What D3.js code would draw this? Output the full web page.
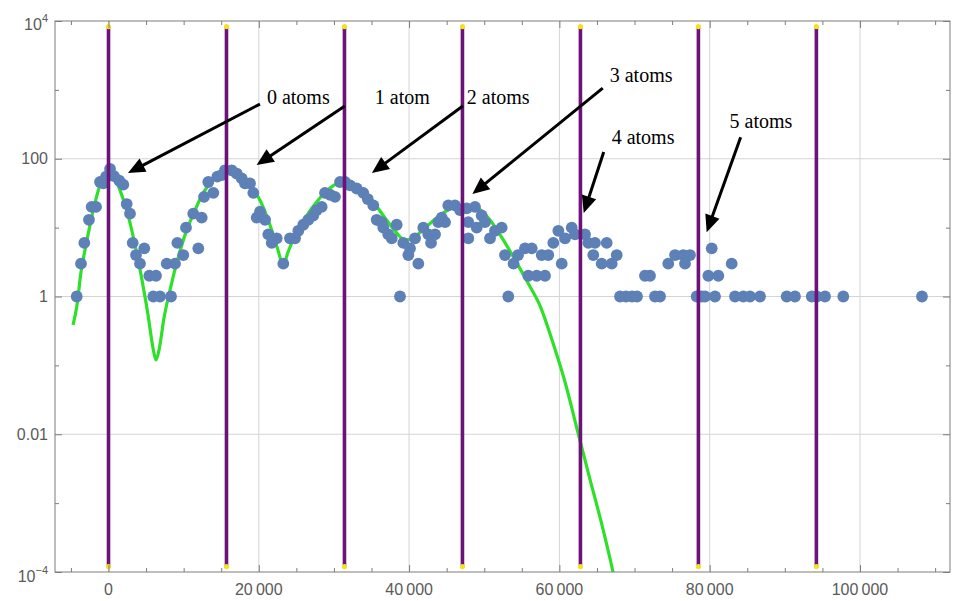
<!DOCTYPE html>
<html>
<head>
<meta charset="utf-8">
<script src="https://cdn.jsdelivr.net/npm/d3@7/dist/d3.min.js"></script>
<style>
  body { margin: 0; background: #fff; }
  svg { display: block; }
</style>
</head>
<body>
<svg id="chart" width="960" height="601"></svg>
<script>
// ---- axis ticks ----
const xTickValues = [0, 20000, 40000, 60000, 80000, 100000];
const xTickLabels = ["0", "20\u2009000", "40\u2009000", "60\u2009000", "80\u2009000", "100\u2009000"];
const xMinorStep = 5000;
const yTickValues = [1e-4, 1e-2, 1, 100, 1e4];
const yTickBase = ["10", "0.01", "1", "100", "10"];
const yTickSup = ["\u22124", "", "", "", "4"];
const yMinorValues = [1e-3, 1e-1, 10, 1e3];

// ---- atom-number markers (vertical lines) ----
const atomLineX = [0, 15700, 31400, 47100, 62800, 78500, 94200];
const atomLineTop = 8300;
const atomLineBottom = 1.2e-4;

// ---- measured counts ----
const countX = [
  -4230, -3660, -3220, -2600, -2240, -1660, -1130, -690, -330, 200, 730, 1440, 1970, 2420, 2860,
  3220, 3660, 4190, 4760, 5430, 6320, 5960, 6850, 8320, 7750, 8850, 9160, 9950, 10310, 11280,
  11950, 12400, 12710, 13280, 13950, 14480, 15060, 15500, 16390, 17060, 17730, 18160, 18830, 19270,
  19720, 20160, 20830, 21270, 21720, 22380, 23260, 24150, 24820, 25260, 25920, 26590, 27250, 27710,
  28370, 28810, 29480, 30140, 30810, 31470, 32140, 33030, 33900, 34500, 35240, 35690, 36360, 36570,
  37230, 37690, 38350, 38790, 39230, 39900, 40120, 40790, 41230, 41890, 42560, 42920, 43450, 43890,
  44340, 44780, 45220, 46110, 46770, 47670, 47880, 47880, 48770, 49000, 49660, 50100, 50770, 51430,
  52320, 52760, 53200, 53900, 54500, 55420, 56320, 55860, 56980, 58090, 57650, 58520, 59190, 59860,
  60310, 60750, 61640, 62080, 63410, 63850, 64740, 64510, 65630, 66300, 66960, 67630, 68070, 68860,
  69660, 70330, 71390, 72060, 72720, 73390, 74490, 75390, 76490, 77380, 76720, 78270, 78940, 79380,
  80270, 79820, 81150, 80710, 82930, 83370, 84470, 85360, 86700, 90250, 91350, 93580, 94240, 95350,
  97780, 108250
];
const countY = [
  1, 3, 6, 13, 20, 20, 46, 44, 55, 71, 56, 48, 42, 22, 16,
  6, 4, 3, 5, 2, 2, 1, 1, 1, 3, 3, 6, 4, 10, 16,
  5, 14, 28, 46, 32, 55, 58, 68, 68, 61, 52, 44, 44, 32,
  14, 17, 13, 8, 6, 7, 3, 7, 7, 9, 11, 13, 15, 18,
  20, 32, 30, 28, 46, 46, 41, 37, 32, 26, 21, 13, 12, 10,
  8, 7, 11, 1, 6, 4, 5, 7, 3, 10, 8, 6, 8, 12,
  14, 12, 21, 21, 18, 19, 12, 7, 20, 10, 15, 12, 7, 9,
  10, 4, 1, 3, 4, 5, 5, 2, 2, 2, 4, 4, 6, 9,
  3, 7, 10, 8, 8, 6, 6, 4, 3, 6, 3, 4, 1, 1,
  1, 1, 2, 2, 1, 1, 3, 4, 4, 4, 3, 1, 1, 1,
  5, 2, 2, 1, 3, 1, 1, 1, 1, 1, 1, 1, 1, 1,
  1, 1
];

// ---- model curve ----
const fitX = [
  -4720, -4190, -3660, -3130, -2460, -1800, -1130, -470, 0, 600, 1530, 2600, 3530, 4460, 5260,
  5920, 6320, 6720, 7390, 8180, 9250, 10310, 11510, 12840, 14170, 15640, 16970, 18560, 20160,
  21490, 22560, 23220, 23890, 24820, 26150, 27880, 29480, 31340, 33200, 35070, 36800, 38260,
  39460, 40520, 42120, 44110, 46110, 47840, 49170, 50770, 52370, 54100, 55820, 57550, 59020,
  60750, 62480, 64080, 65670, 67140, 67800
];
const fitY = [
  0.386, 0.75, 2.27, 4.73, 10.9, 22.8, 41.5, 58, 64, 58, 35, 15.2, 5.6, 1.73, 0.54,
  0.179, 0.12, 0.167, 0.49, 1.24, 3.6, 8.6, 18, 35, 52, 64, 60, 44, 25,
  10.9, 4.7, 2.87, 4.4, 7.8, 13.8, 25, 37.6, 47, 40, 25, 13.8, 8.6,
  6.6, 7.1, 9.9, 15.2, 19.9, 21.3, 19.2, 12.9, 7.1, 3.4, 1.57, 0.68, 0.234,
  0.0574, 0.0105, 0.0022, 0.00048, 0.0001, 0.000046
];

// ---- annotations ----
const noteText = ["0 atoms", "1 atom", "2 atoms", "3 atoms", "4 atoms", "5 atoms"];
const noteX = [21080, 35440, 47680, 66700, 66960, 82650];
const noteY = [632, 632, 632, 1320, 166, 284];
const arrowTailX = [20150, 31450, 47150, 65770, 65900, 84120];
const arrowTailY = [622, 582, 582, 1062, 125, 206];
const arrowTipX = [2590, 19710, 35050, 48420, 63240, 79600];
const arrowTipY = [62, 81, 62, 30.7, 16.3, 8.6];

// ---- layout ----
const svg = d3.select("#chart");
const plot = { left: 55, right: 950, top: 21, bottom: 572 };
const x = d3.scaleLinear().domain([-7120, 111980]).range([plot.left, plot.right]);
const y = d3.scaleLog().domain([1e-4, 1e4]).range([plot.bottom, plot.top]);

const frameColor = "#7d7d7d";
const gridColor = "#d4d4d4";
const labelColor = "#5a5a5a";
const labelFont = "'Liberation Sans', Arial, sans-serif";

svg.append("rect").attr("width", 960).attr("height", 601).attr("fill", "#fff");

svg.append("defs").append("clipPath").attr("id", "plot-clip")
  .append("rect")
  .attr("x", plot.left).attr("y", plot.top)
  .attr("width", plot.right - plot.left).attr("height", plot.bottom - plot.top);

// grid lines
const grid = svg.append("g");
grid.selectAll("line.gx").data(xTickValues).join("line")
  .attr("x1", d => x(d)).attr("x2", d => x(d))
  .attr("y1", plot.top).attr("y2", plot.bottom)
  .attr("stroke", gridColor).attr("stroke-width", 1);
grid.selectAll("line.gy").data(yTickValues.slice(1, -1)).join("line")
  .attr("x1", plot.left).attr("x2", plot.right)
  .attr("y1", d => y(d)).attr("y2", d => y(d))
  .attr("stroke", gridColor).attr("stroke-width", 1);

// model curve
const fitData = fitX.map((v, i) => [v, fitY[i]]);
svg.append("path")
  .datum(fitData)
  .attr("clip-path", "url(#plot-clip)")
  .attr("fill", "none")
  .attr("stroke", "#2fe02a")
  .attr("stroke-width", 3.2)
  .attr("stroke-linejoin", "round")
  .attr("d", d3.line().x(d => x(d[0])).y(d => y(d[1])).curve(d3.curveMonotoneX));

// measured counts
const countData = countX.map((v, i) => [v, countY[i]]);
svg.append("g").selectAll("circle").data(countData).join("circle")
  .attr("cx", d => x(d[0])).attr("cy", d => y(d[1]))
  .attr("r", 5.9)
  .attr("fill", "#5d80b6");

// atom-number markers
const markers = svg.append("g");
markers.selectAll("line").data(atomLineX).join("line")
  .attr("x1", d => x(d)).attr("x2", d => x(d))
  .attr("y1", y(atomLineTop)).attr("y2", y(atomLineBottom))
  .attr("stroke", "#6c1279").attr("stroke-width", 3.6);
markers.selectAll("circle.top").data(atomLineX).join("circle")
  .attr("class", "top")
  .attr("cx", d => x(d)).attr("cy", y(atomLineTop)).attr("r", 2.6)
  .attr("fill", "#f3e21c");
markers.selectAll("circle.bottom").data(atomLineX).join("circle")
  .attr("class", "bottom")
  .attr("cx", d => x(d)).attr("cy", y(atomLineBottom)).attr("r", 2.6)
  .attr("fill", "#f3e21c");

// frame
svg.append("rect")
  .attr("x", plot.left).attr("y", plot.top)
  .attr("width", plot.right - plot.left).attr("height", plot.bottom - plot.top)
  .attr("fill", "none").attr("stroke", frameColor).attr("stroke-width", 1);

// ticks (pointing into the plot)
const xMinor = d3.range(-5000, 111980, xMinorStep).filter(v => !xTickValues.includes(v));
function styleAxis(g) {
  g.select(".domain").remove();
  g.selectAll(".tick line").attr("stroke", frameColor);
  g.selectAll(".tick text").remove();
}
svg.append("g").attr("transform", `translate(0,${plot.bottom})`)
  .call(d3.axisBottom(x).tickValues(xTickValues).tickSize(-7).tickFormat("")).call(styleAxis);
svg.append("g").attr("transform", `translate(0,${plot.bottom})`)
  .call(d3.axisBottom(x).tickValues(xMinor).tickSize(-4).tickFormat("")).call(styleAxis);
svg.append("g").attr("transform", `translate(0,${plot.top})`)
  .call(d3.axisTop(x).tickValues(xTickValues).tickSize(-7).tickFormat("")).call(styleAxis);
svg.append("g").attr("transform", `translate(0,${plot.top})`)
  .call(d3.axisTop(x).tickValues(xMinor).tickSize(-4).tickFormat("")).call(styleAxis);
svg.append("g").attr("transform", `translate(${plot.left},0)`)
  .call(d3.axisLeft(y).tickValues(yTickValues).tickSize(-7).tickFormat("")).call(styleAxis);
svg.append("g").attr("transform", `translate(${plot.left},0)`)
  .call(d3.axisLeft(y).tickValues(yMinorValues).tickSize(-4).tickFormat("")).call(styleAxis);
svg.append("g").attr("transform", `translate(${plot.right},0)`)
  .call(d3.axisRight(y).tickValues(yTickValues).tickSize(-7).tickFormat("")).call(styleAxis);
svg.append("g").attr("transform", `translate(${plot.right},0)`)
  .call(d3.axisRight(y).tickValues(yMinorValues).tickSize(-4).tickFormat("")).call(styleAxis);

// x tick labels
svg.append("g").selectAll("text").data(xTickValues).join("text")
  .attr("x", d => x(d)).attr("y", plot.bottom + 23)
  .attr("text-anchor", "middle")
  .attr("font-family", labelFont).attr("font-size", 16)
  .attr("fill", labelColor)
  .text((d, i) => xTickLabels[i]);

// y tick labels (with exponents where needed)
const yLabels = svg.append("g").selectAll("text").data(yTickValues).join("text")
  .attr("x", plot.left - 7)
  .attr("y", (d, i) => {
    if (i === 0) return y(d) + 10;
    if (i === yTickValues.length - 1) return y(d) + 9;
    return y(d) + 5.5;
  })
  .attr("text-anchor", "end")
  .attr("font-family", labelFont).attr("font-size", 16)
  .attr("fill", labelColor);
yLabels.each(function (d, i) {
  const t = d3.select(this);
  t.append("tspan").text(yTickBase[i]);
  if (yTickSup[i]) {
    t.append("tspan").attr("font-size", 11).attr("dy", -8).text(yTickSup[i]);
  }
});

// annotations: arrows
const arrows = svg.append("g");
const headLen = 17, headHalf = 7.5;
arrowTailX.forEach((tx, i) => {
  const x0 = x(tx), y0 = y(arrowTailY[i]);
  const x1 = x(arrowTipX[i]), y1 = y(arrowTipY[i]);
  const len = Math.hypot(x1 - x0, y1 - y0);
  const ux = (x1 - x0) / len, uy = (y1 - y0) / len;
  const bx = x1 - ux * headLen, by = y1 - uy * headLen;
  arrows.append("line")
    .attr("x1", x0).attr("y1", y0)
    .attr("x2", bx + ux * 2).attr("y2", by + uy * 2)
    .attr("stroke", "#000").attr("stroke-width", 3);
  arrows.append("polygon")
    .attr("points", [
      [x1, y1],
      [bx - uy * headHalf, by + ux * headHalf],
      [bx + uy * headHalf, by - ux * headHalf]
    ].map(p => p.join(",")).join(" "))
    .attr("fill", "#000");
});

// annotations: labels
svg.append("g").selectAll("text").data(noteText).join("text")
  .attr("x", (d, i) => x(noteX[i]))
  .attr("y", (d, i) => y(noteY[i]))
  .attr("font-family", "'Liberation Serif', 'Times New Roman', serif")
  .attr("font-size", 20)
  .attr("fill", "#000")
  .text(d => d);
</script>
</body>
</html>
